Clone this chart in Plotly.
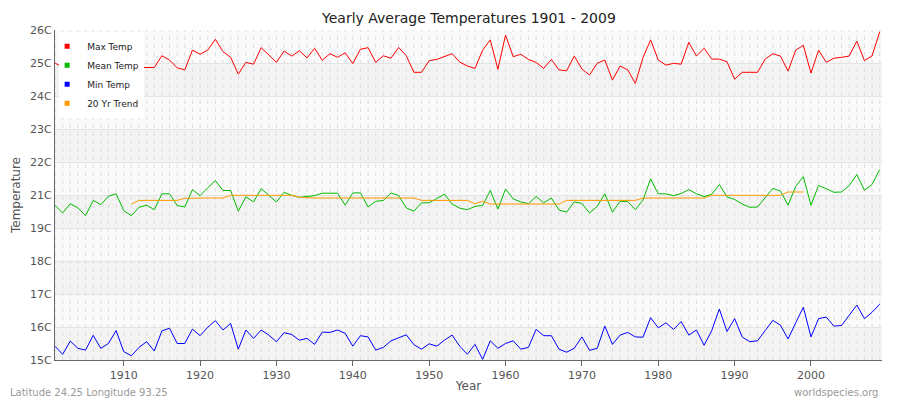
import plotly.graph_objects as go

years = list(range(1901, 2010))
max_temp = [24.9, 24.75, 24.8, 25.0, 24.9, 25.1, 24.8, 25.0, 24.9, 24.85, 24.85, 24.75, 24.75, 24.75,
            25.14, 25.0, 24.74, 24.67, 25.33, 25.19, 25.33, 25.69, 25.28, 25.09, 24.53, 24.92, 24.86,
            25.41, 25.17, 24.92, 25.3, 25.13, 25.31, 25.07, 25.39, 24.99, 25.21, 25.09, 25.24, 24.88,
            25.36, 25.41, 24.92, 25.14, 25.06, 25.42, 25.14, 24.59, 24.59, 24.98, 25.02, 25.11, 25.21,
            24.93, 24.8, 24.72, 25.33, 25.67, 24.69, 25.83, 25.11, 25.19, 25.02, 24.92, 24.72, 25.02,
            24.67, 24.64, 25.13, 24.7, 24.5, 24.89, 25.0, 24.33, 24.8, 24.67, 24.22, 25.08, 25.67,
            25.0, 24.83, 24.89, 24.86, 25.59, 25.13, 25.39, 25.03, 25.03, 24.94, 24.36, 24.59, 24.59,
            24.59, 25.03, 25.21, 25.13, 24.63, 25.33, 25.49, 24.56, 25.33, 24.92, 25.06, 25.09, 25.13,
            25.63, 24.98, 25.14, 25.94]
mean_temp = [20.16, 19.9, 20.21, 20.07, 19.81, 20.32, 20.18, 20.46, 20.54, 19.98, 19.81, 20.09, 20.16,
             20.01, 20.54, 20.54, 20.15, 20.1, 20.68, 20.48, 20.74, 20.98, 20.65, 20.65, 19.96, 20.44,
             20.27, 20.71, 20.49, 20.27, 20.59, 20.49, 20.42, 20.45, 20.48, 20.56, 20.55, 20.56, 20.16,
             20.57, 20.57, 20.1, 20.29, 20.32, 20.57, 20.48, 20.07, 19.96, 20.24, 20.24, 20.38, 20.53,
             20.2, 20.06, 20.01, 20.12, 20.15, 20.65, 20.03, 20.7, 20.37, 20.27, 20.21, 20.45, 20.24,
             20.4, 20.0, 19.93, 20.27, 20.22, 19.9, 20.12, 20.54, 19.93, 20.29, 20.28, 20.01, 20.33,
             21.04, 20.54, 20.54, 20.48, 20.55, 20.68, 20.54, 20.45, 20.52, 20.85, 20.44, 20.35, 20.2,
             20.09, 20.1, 20.4, 20.72, 20.63, 20.16, 20.79, 21.11, 20.16, 20.82, 20.71, 20.59, 20.6,
             20.81, 21.18, 20.66, 20.85, 21.35]
min_temp = [15.46, 15.19, 15.63, 15.39, 15.33, 15.82, 15.39, 15.55, 15.98, 15.28, 15.14, 15.42, 15.61,
            15.3, 15.97, 16.06, 15.55, 15.55, 16.03, 15.81, 16.09, 16.31, 16.0, 16.22, 15.36, 16.0,
            15.72, 16.0, 15.83, 15.61, 15.91, 15.85, 15.66, 15.72, 15.52, 15.93, 15.92, 16.0, 15.89,
            15.46, 15.81, 15.77, 15.33, 15.42, 15.64, 15.74, 15.84, 15.51, 15.36, 15.54, 15.46, 15.66,
            15.83, 15.46, 15.19, 15.52, 15.02, 15.64, 15.39, 15.55, 15.64, 15.36, 15.42, 16.02, 15.81,
            15.81, 15.36, 15.26, 15.39, 15.77, 15.32, 15.39, 16.13, 15.52, 15.83, 15.92, 15.77, 15.76,
            16.41, 16.07, 16.24, 16.02, 16.28, 15.83, 16.0, 15.49, 15.98, 16.7, 15.95, 16.38, 15.76,
            15.61, 15.64, 15.98, 16.32, 16.16, 15.7, 16.24, 16.76, 15.77, 16.38, 16.43, 16.13, 16.15,
            16.5, 16.83, 16.38, 16.59, 16.86]
trend_years = list(range(1911, 2000))
trend = ([20.2] + [20.32] * 6 + [20.39] + [20.4] * 5 + [20.49] * 9 + [20.42] + [20.4] * 15 +
         [20.32] * 7 + [20.21, 20.29] + [20.2] * 10 + [20.32] * 10 + [20.4] * 9 + [20.49] * 10 +
         [20.6] * 3)
tick_labels = ["15C", "16C", "17C", "18C", "19C", "21C", "22C", "23C", "24C", "25C", "26C"]
x_ticks = [1910, 1920, 1930, 1940, 1950, 1960, 1970, 1980, 1990, 2000]

ymin, ymax = 15, 26
step = (ymax - ymin) / (len(tick_labels) - 1)
tick_vals = [ymin + i * step for i in range(len(tick_labels))]

fig = go.Figure()
shapes = []
for i in range(len(tick_vals) - 1):
    shapes.append(dict(type="rect", xref="paper", yref="y", x0=0, x1=1,
                       y0=tick_vals[i], y1=tick_vals[i + 1], layer="below", line_width=0,
                       fillcolor="#f3f3f3" if i % 2 == 0 else "#fafafa"))
for yr in years:
    shapes.append(dict(type="line", xref="x", yref="paper", x0=yr, x1=yr, y0=0, y1=1,
                       layer="below", line=dict(color="#dddddd", width=1, dash="4px,4px")))

series = [("Max Temp", years, max_temp, "#ff0000"),
          ("Mean Temp", years, mean_temp, "#00bb00"),
          ("Min Temp", years, min_temp, "#0000ff"),
          ("20 Yr Trend", trend_years, trend, "#ff9900")]
for name, xs, ys, c in series:
    fig.add_trace(go.Scatter(x=xs, y=ys, mode="lines", line=dict(color=c, width=1),
                             showlegend=False, name=name))
for name, xs, ys, c in series:
    fig.add_trace(go.Scatter(x=[None], y=[None], mode="markers", name=name,
                             marker=dict(symbol="square", size=5, color=c)))

fig.update_layout(
    width=900, height=400, margin=dict(l=47, r=26, t=22, b=48, autoexpand=False),
    paper_bgcolor="white", plot_bgcolor="#fafafa",
    font=dict(family="DejaVu Sans", size=11, color="#333"),
    shapes=shapes,
    legend=dict(x=0.005, y=0.995, xanchor="left", yanchor="top", bgcolor="white",
                font=dict(size=9, color="#222"), itemwidth=30, tracegroupgap=0,
                indentation=-12),
    xaxis=dict(range=[1901, 2009.3], tickvals=x_ticks, showgrid=False, zeroline=False,
               automargin=False,
               ticks="outside", ticklen=5, tickcolor="#666", showline=True, linecolor="#666",
               title=dict(text="Year", standoff=0, font=dict(size=12, color="#555")),
               tickfont=dict(color="#555")),
    yaxis=dict(range=[ymin, ymax], tickvals=tick_vals, ticktext=tick_labels, zeroline=False,
               automargin=False,
               gridcolor="#e4e4e4", showline=True, linecolor="#666", ticks="",
               title=dict(text="Temperature", standoff=6, font=dict(size=12, color="#555")),
               tickfont=dict(color="#555")),
    annotations=[
        dict(text="Yearly Average Temperatures 1901 - 2009", xref="paper", yref="paper",
             x=0.5, y=1.0, yshift=12, xanchor="center", yanchor="middle", showarrow=False,
             font=dict(size=14, color="#222")),
        dict(text="Latitude 24.25 Longitude 93.25", xref="paper", yref="paper", x=-0.0568, y=0,
             yshift=-32, xanchor="left", yanchor="middle", showarrow=False,
             font=dict(size=10, color="#999")),
        dict(text="worldspecies.org", xref="paper", yref="paper", x=0.9976, y=0,
             yshift=-32, xanchor="right", yanchor="middle", showarrow=False,
             font=dict(size=10, color="#999")),
    ],
)
fig.write_html("out.html")
